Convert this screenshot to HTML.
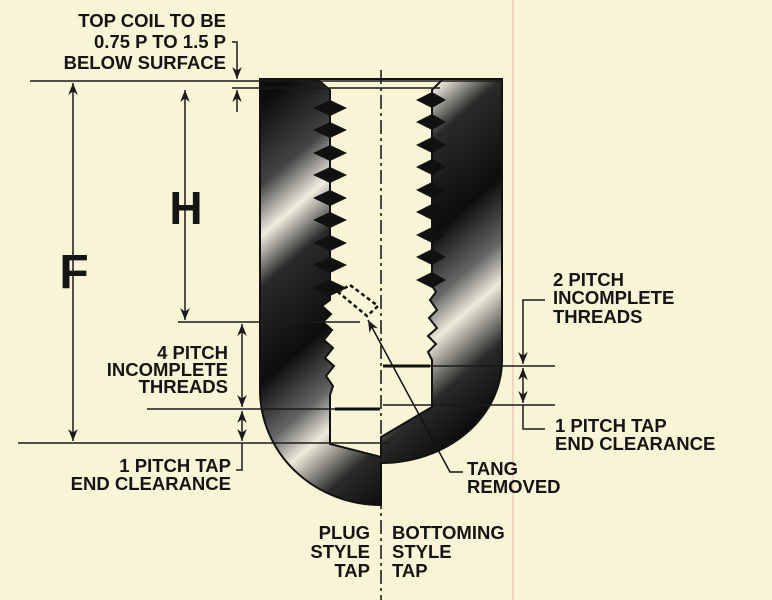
<!DOCTYPE html>
<html><head><meta charset="utf-8"><style>
html,body{margin:0;padding:0;background:#f8f4d6;}
svg{display:block}
text{font-family:"Liberation Sans",sans-serif;font-weight:bold;fill:#151515;font-size:18.5px}
</style></head><body>
<svg width="772" height="600" viewBox="0 0 772 600" xmlns="http://www.w3.org/2000/svg">
<defs>
<linearGradient id="g" gradientUnits="userSpaceOnUse" x1="255" y1="110" x2="505" y2="400">
<stop offset="0" stop-color="#0d0d0d"/>
<stop offset="0.16" stop-color="#444"/>
<stop offset="0.26" stop-color="#f0ede0"/>
<stop offset="0.36" stop-color="#2a2a2a"/>
<stop offset="0.55" stop-color="#0d0d0d"/>
<stop offset="0.68" stop-color="#666"/>
<stop offset="0.76" stop-color="#eeebdc"/>
<stop offset="0.88" stop-color="#2a2a2a"/>
<stop offset="1" stop-color="#0d0d0d"/>
</linearGradient>
<marker id="a" viewBox="0 0 10 10" refX="10" refY="5" markerWidth="8" markerHeight="8" orient="auto-start-reverse"><path d="M0,1 L10,5 L0,9 L3,5 Z" fill="#1a1a1a"/></marker>
</defs>
<line x1="513" y1="0" x2="513" y2="600" stroke="#e8b8a8" stroke-width="1"/>
<path d="M260,79 H502 V360 A121,103 0 0 1 381,463 V505 A121,115 0 0 1 260,390 Z" fill="url(#g)" stroke="#111" stroke-width="2"/>
<path d="M317,79 L330,90 V300 L322,306 L331,314 L323,322 L332,330 L324,340 L333,348 L325,358 L334,366 L326,376 L333,386 L330,395 V444 L381,457 V437 L432,407 V360 L428,352 L436,344 L428,336 L437,328 L429,318 L437,310 L430,300 L436,292 L432,286 V90 L443,79 Z" fill="#f8f4d6" stroke="#111" stroke-width="2"/>
<g fill="#111">
<path d="M313,108 l17,-8 l17,8 l-17,8z"/><path d="M313,130 l17,-8 l17,8 l-17,8z"/><path d="M313,153 l17,-8 l17,8 l-17,8z"/><path d="M313,175 l17,-8 l17,8 l-17,8z"/><path d="M313,198 l17,-8 l17,8 l-17,8z"/><path d="M313,220 l17,-8 l17,8 l-17,8z"/><path d="M313,243 l17,-8 l17,8 l-17,8z"/><path d="M313,265 l17,-8 l17,8 l-17,8z"/><path d="M313,288 l17,-8 l17,8 l-17,8z"/>
<path d="M416,100 l16,-8 l14,8 l-14,8z"/><path d="M416,122 l16,-8 l14,8 l-14,8z"/><path d="M416,145 l16,-8 l14,8 l-14,8z"/><path d="M416,167 l16,-8 l14,8 l-14,8z"/><path d="M416,190 l16,-8 l14,8 l-14,8z"/><path d="M416,212 l16,-8 l14,8 l-14,8z"/><path d="M416,235 l16,-8 l14,8 l-14,8z"/><path d="M416,257 l16,-8 l14,8 l-14,8z"/><path d="M416,280 l16,-8 l14,8 l-14,8z"/>
</g>
<line x1="381" y1="70" x2="381" y2="600" stroke="#111" stroke-width="1.5" stroke-dasharray="14,4,3,4"/>
<path d="M338,292 L350,285 L378,306 L367,316 Z" fill="none" stroke="#111" stroke-width="2.5" stroke-dasharray="4,3"/>
<path d="M463,472 H450 L368,320" fill="none" stroke="#111" stroke-width="1.5" marker-end="url(#a)"/>
<g stroke="#1a1a1a" stroke-width="1.5">
<line x1="30" y1="81" x2="502" y2="81"/>
<line x1="232" y1="88" x2="440" y2="88"/>
<line x1="178" y1="322" x2="360" y2="322"/>
<line x1="147" y1="409" x2="380" y2="409"/>
<line x1="18" y1="443" x2="390" y2="443"/>
<line x1="383" y1="366" x2="555" y2="366"/>
<line x1="383" y1="405" x2="555" y2="405"/>
</g>
<line x1="335" y1="409" x2="380" y2="409" stroke="#111" stroke-width="3"/>
<line x1="383" y1="366" x2="430" y2="366" stroke="#111" stroke-width="3"/>
<g stroke="#1a1a1a" stroke-width="1.5" fill="none">
<line x1="73" y1="83" x2="73" y2="441" marker-start="url(#a)" marker-end="url(#a)"/>
<line x1="185" y1="90" x2="185" y2="320" marker-start="url(#a)" marker-end="url(#a)"/>
<path d="M232,42 H237 V79" marker-end="url(#a)"/>
<line x1="237" y1="112" x2="237" y2="90" marker-end="url(#a)"/>
<line x1="242" y1="324" x2="242" y2="407" marker-start="url(#a)" marker-end="url(#a)"/>
<line x1="242" y1="411" x2="242" y2="441" marker-start="url(#a)" marker-end="url(#a)"/>
<path d="M242,443 V470 H236"/>
<path d="M545,300 H523 V364" marker-end="url(#a)"/>
<line x1="523" y1="368" x2="523" y2="403" marker-start="url(#a)" marker-end="url(#a)"/>
<path d="M523,405 V429 H545"/>
</g>
<text x="74" y="288" text-anchor="middle" style="font-size:48px">F</text>
<text x="186" y="224" text-anchor="middle" style="font-size:46px">H</text>
<g text-anchor="end">
<text x="226" y="27">TOP COIL TO BE</text>
<text x="226" y="48">0.75 P TO 1.5 P</text>
<text x="226" y="69">BELOW SURFACE</text>
<text x="228" y="359">4 PITCH</text>
<text x="228" y="376">INCOMPLETE</text>
<text x="228" y="393">THREADS</text>
<text x="231" y="472">1 PITCH TAP</text>
<text x="231" y="490">END CLEARANCE</text>
<text x="370" y="539">PLUG</text>
<text x="370" y="558">STYLE</text>
<text x="370" y="577">TAP</text>
</g>
<text x="553" y="286">2 PITCH</text>
<text x="553" y="304">INCOMPLETE</text>
<text x="553" y="323">THREADS</text>
<text x="555" y="432">1 PITCH TAP</text>
<text x="555" y="450">END CLEARANCE</text>
<text x="467" y="475">TANG</text>
<text x="467" y="493">REMOVED</text>
<text x="392" y="539">BOTTOMING</text>
<text x="392" y="558">STYLE</text>
<text x="392" y="577">TAP</text>
</svg>
</body></html>
